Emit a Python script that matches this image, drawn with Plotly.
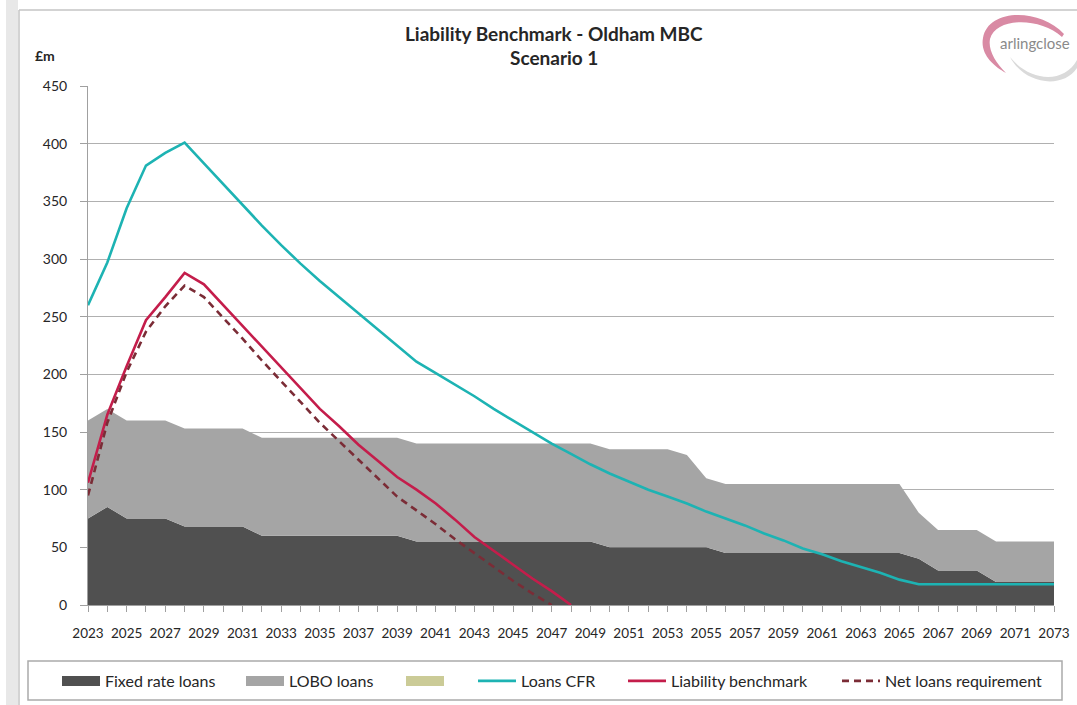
import plotly.graph_objects as go

# ---------------- data ----------------
years = list(range(2023, 2074))
fixed_rate_loans = [75, 85, 75, 75, 75, 68, 68, 68, 68,
                    60, 60, 60, 60, 60, 60, 60, 60,
                    55, 55, 55, 55, 55, 55, 55, 55, 55, 55,
                    50, 50, 50, 50, 50, 50,
                    45, 45, 45, 45, 45, 45, 45, 45, 45, 45,
                    40, 30, 30, 30, 20, 20, 20, 20]
lobo_loans = [85, 85, 85, 85, 85, 85, 85, 85, 85,
              85, 85, 85, 85, 85, 85, 85, 85,
              85, 85, 85, 85, 85, 85, 85, 85, 85, 85,
              85, 85, 85, 85, 80, 60,
              60, 60, 60, 60, 60, 60, 60, 60, 60, 60,
              40, 35, 35, 35, 35, 35, 35, 35]
loans_cfr = [260, 297, 344, 381, 392, 401, 383, 365, 347, 329, 312, 296, 281,
             267, 253, 239, 225, 211, 201, 191, 181, 170, 160, 150, 140, 131,
             122, 114, 107, 100, 94, 88, 81, 75, 69, 62, 56, 49, 44, 38, 33,
             28, 22, 18, 18, 18, 18, 18, 18, 18, 18]
liability_benchmark = [106, 165, 207, 247, 267, 288, 278, 260, 242, 224, 206,
                       188, 170, 155, 139, 125, 111, 100, 88, 74, 59, 47, 35,
                       23, 12, 0]
net_loans_requirement = [95, 158, 202, 237, 259, 277, 267, 249, 231, 212, 194,
                         176, 158, 142, 126, 110, 94, 82, 70, 57, 45, 33, 21,
                         10, 0]
y_ticks = [0, 50, 100, 150, 200, 250, 300, 350, 400, 450]
x_tick_labels = [str(y) for y in range(2023, 2074, 2)]

# ---------------- layout geometry ----------------
W, H = 1077, 705
L, R, T, B = 88, 23, 86, 100
PW, PH = W - L - R, H - T - B

FONT = "Lato, DejaVu Sans Condensed, sans-serif"
TXT = "#262626"

def px(x):
    return (x - L) / PW

def py(y):
    return (H - B - y) / PH

C_FIXED = "#505050"
C_LOBO = "#A5A5A5"
C_OLIVE = "#CBCB97"
C_CFR = "#1DB3B3"
C_LB = "#C41D4B"
C_NET = "#7B2C36"

fig = go.Figure()

# stacked areas
fig.add_trace(go.Scatter(x=years, y=fixed_rate_loans, stackgroup="one",
                         mode="lines", line=dict(width=0, color=C_FIXED),
                         fillcolor=C_FIXED, name="Fixed rate loans",
                         showlegend=False, hoverinfo="skip"))
fig.add_trace(go.Scatter(x=years, y=lobo_loans, stackgroup="one",
                         mode="lines", line=dict(width=0, color=C_LOBO),
                         fillcolor=C_LOBO, name="LOBO loans",
                         showlegend=False, hoverinfo="skip"))

# lines
fig.add_trace(go.Scatter(x=years, y=loans_cfr, mode="lines",
                         line=dict(color=C_CFR, width=2.6), showlegend=True,
                         name="Loans CFR", legend="legend4"))
fig.add_trace(go.Scatter(x=years[:len(liability_benchmark)], y=liability_benchmark,
                         mode="lines", line=dict(color=C_LB, width=2.6), showlegend=True,
                         name="Liability benchmark", legend="legend5"))
fig.add_trace(go.Scatter(x=years[:len(net_loans_requirement)], y=net_loans_requirement,
                         mode="lines", line=dict(color=C_NET, width=2.6, dash="7px,5px"),
                         showlegend=True, name="Net loans requirement", legend="legend6"))

# legend swatches for the area series (and the unnamed olive series)
fig.add_trace(go.Scatter(x=[None], y=[None], mode="lines", line=dict(color=C_FIXED, width=10),
                         showlegend=True, name="Fixed rate loans", legend="legend"))
fig.add_trace(go.Scatter(x=[None], y=[None], mode="lines", line=dict(color=C_LOBO, width=10),
                         showlegend=True, name="LOBO loans", legend="legend2"))
fig.add_trace(go.Scatter(x=[None], y=[None], mode="lines", line=dict(color=C_OLIVE, width=10),
                         showlegend=True, name=" ", legend="legend3"))

LEG_Y = 681
OFF = 5
def leg(xpix):
    return dict(x=px(xpix - OFF), y=py(LEG_Y), xanchor="left", yanchor="middle",
                orientation="h", itemwidth=38, bgcolor="rgba(0,0,0,0)",
                borderwidth=0, font=dict(family=FONT, size=16, color=TXT),
                itemclick=False, itemdoubleclick=False, visible=True)

shapes = [
    # outer frame
    dict(type="rect", xref="paper", yref="paper", x0=px(6), x1=px(18), y0=py(705), y1=py(0),
         fillcolor="#E8E8E8", line=dict(width=0), layer="below"),
    dict(type="line", xref="paper", yref="paper", x0=px(19), x1=px(19), y0=py(705), y1=py(10),
         line=dict(color="#C4C4C4", width=1.5)),
    dict(type="line", xref="paper", yref="paper", x0=px(19), x1=px(1077), y0=py(10), y1=py(10),
         line=dict(color="#C4C4C4", width=1.5)),
    # legend box
    dict(type="rect", xref="paper", yref="paper", x0=px(28), x1=px(1062), y0=py(700), y1=py(661),
         line=dict(color="#AAAAAA", width=1.5), fillcolor="rgba(0,0,0,0)"),
]

pink = ("M {},{} C {},{} {},{} {},{} C {},{} {},{} {},{} C {},{} {},{} {},{} C {},{} {},{} {},{} Z").format(
    px(1064), py(34), px(1040), py(8), px(988), py(8), px(983), py(38),
    px(980), py(54), px(993), py(66), px(1006), py(73),
    px(995), py(62), px(988), py(50), px(990), py(39),
    px(996), py(17), px(1040), py(17), px(1062), py(37))
gray = ("M {},{} C {},{} {},{} {},{} L {},{} C {},{} {},{} {},{} Z").format(
    px(1010), py(57), px(1030), py(82), px(1064), py(84), px(1077), py(60),
    px(1077), py(68), px(1062), py(90), px(1024), py(84), px(1010), py(57))
shapes.append(dict(type="path", xref="paper", yref="paper", path=pink,
                   fillcolor="#D98AA4", line=dict(width=0)))
shapes.append(dict(type="path", xref="paper", yref="paper", path=gray,
                   fillcolor="#DADADA", line=dict(width=0)))

annotations = [
    dict(text="<b>Liability Benchmark - Oldham MBC</b>", x=px(554), y=py(34),
         xref="paper", yref="paper", showarrow=False, xanchor="center", yanchor="middle",
         font=dict(family=FONT, size=19, color=TXT)),
    dict(text="<b>Scenario 1</b>", x=px(554), y=py(58),
         xref="paper", yref="paper", showarrow=False, xanchor="center", yanchor="middle",
         font=dict(family=FONT, size=19, color=TXT)),
    dict(text="<b>£m</b>", x=px(45), y=py(56),
         xref="paper", yref="paper", showarrow=False, xanchor="center", yanchor="middle",
         font=dict(family=FONT, size=14, color=TXT)),
    dict(text="arlingclose", x=px(1035), y=py(43),
         xref="paper", yref="paper", showarrow=False, xanchor="center", yanchor="middle",
         font=dict(family=FONT, size=15, color="#8A8A8A")),
]

fig.update_layout(
    width=W, height=H,
    margin=dict(l=L, r=R, t=T, b=B, pad=0, autoexpand=False),
    paper_bgcolor="white", plot_bgcolor="white",
    shapes=shapes, annotations=annotations,
    showlegend=True,
    legend=leg(62), legend2=leg(246), legend3=leg(406),
    legend4=leg(478), legend5=leg(628), legend6=leg(842),
    hovermode=False,
)

fig.update_xaxes(
    range=[2023, 2073], tickmode="array", tickvals=list(range(2023, 2074, 2)),
    ticktext=x_tick_labels, ticks="outside", ticklen=6, tickcolor="#A0A0A0",
    ticklabelstandoff=10,
    minor=dict(tickmode="linear", tick0=2023, dtick=1, ticks="outside", ticklen=6,
               tickcolor="#A0A0A0", showgrid=False),
    showline=True, linecolor="#A0A0A0", linewidth=1, showgrid=False, zeroline=False,
    tickfont=dict(family=FONT, size=13.5, color=TXT),
)
fig.update_yaxes(
    range=[0, 450], tickmode="array", tickvals=y_ticks, ticktext=[str(v) for v in y_ticks],
    ticks="outside", ticklen=7, tickcolor="#A0A0A0", ticklabelstandoff=10,
    showline=True, linecolor="#A0A0A0", linewidth=1,
    showgrid=True, gridcolor="#B0B0B0", gridwidth=1, zeroline=False,
    tickfont=dict(family=FONT, size=14, color=TXT),
)

fig.write_html("out.html")
